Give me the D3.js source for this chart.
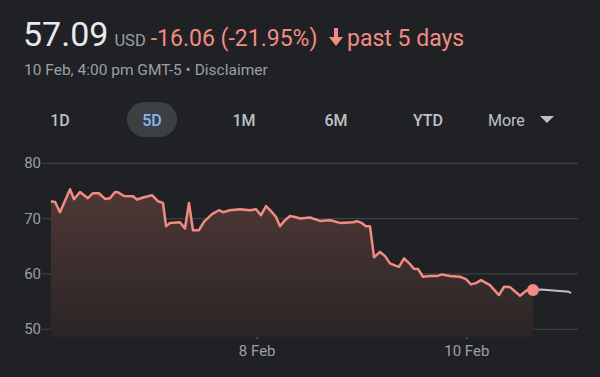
<!DOCTYPE html>
<html>
<head>
<meta charset="utf-8">
<script src="https://cdn.jsdelivr.net/npm/d3@7"></script>
<style>
  html, body { margin: 0; padding: 0; background: #202124; }
  svg { display: block; font-family: Roboto, "Noto Sans", sans-serif; }
</style>
</head>
<body>
<div class="quote"></div>
<script>
// trading days elapsed since the start of the 5-day window, and price
const times = [0.032, 0.071, 0.118, 0.214, 0.252, 0.309, 0.385, 0.433, 0.490, 0.548,
  0.595, 0.643, 0.672, 0.729, 0.815, 0.853, 0.920, 0.996, 1.053, 1.101,
  1.130, 1.168, 1.263, 1.311, 1.349, 1.387, 1.444, 1.492, 1.569, 1.635,
  1.674, 1.740, 1.836, 1.931, 1.989, 2.036, 2.084, 2.141, 2.179, 2.218,
  2.265, 2.313, 2.370, 2.408, 2.504, 2.599, 2.695, 2.790, 2.914, 2.952,
  3.000, 3.038, 3.076, 3.115, 3.172, 3.220, 3.267, 3.325, 3.353, 3.401,
  3.458, 3.496, 3.535, 3.582, 3.649, 3.716, 3.763, 3.840, 3.935, 3.992,
  4.040, 4.088, 4.135, 4.221, 4.307, 4.355, 4.412, 4.508, 4.575, 4.632]
const prices = [73.15, 73.02, 71.16, 75.31, 73.51, 74.82, 73.69, 74.59, 74.59, 73.56,
  73.69, 74.82, 74.77, 74.10, 74.05, 73.45, 73.87, 74.23, 73.15, 72.84,
  68.64, 69.23, 69.36, 68.22, 72.84, 67.91, 67.91, 69.41, 70.80, 71.52,
  71.16, 71.52, 71.70, 71.52, 71.70, 70.62, 72.25, 71.16, 70.31, 68.64,
  69.72, 70.49, 70.26, 70.03, 70.21, 69.59, 69.72, 69.23, 69.36, 69.54,
  69.18, 68.64, 68.64, 62.99, 64.00, 63.22, 61.91, 61.47, 61.29, 62.81,
  61.78, 60.93, 60.88, 59.49, 59.62, 59.62, 59.92, 59.62, 59.49, 59.07,
  58.12, 58.35, 58.89, 57.99, 56.19, 57.69, 57.63, 56.06, 57.09, 57.09]
// after-hours trading
const afterTimes = [4.632, 4.708, 4.975, 4.994]
const afterPrices = [57.09, 57.21, 56.78, 56.50]

const yTicks = [50, 60, 70, 80]
const xTickDays = [2, 4]
const xTickLabels = ["8 Feb", "10 Feb"]
const ranges = ["1D", "5D", "1M", "6M", "YTD"]
const activeRange = "5D"

const price = "57.09", currency = "USD", change = "-16.06 (-21.95%)", period = "past 5 days"
const subtitle = "10 Feb, 4:00 pm GMT-5 • Disclaimer"

let width = 600, height = 377
let red = "#f28b82", grey = "#9aa0a6"

let svg = d3.select(".quote")
    .append("svg")
    .attr("width", width)
    .attr("height", height)

// header
let head = svg.append("text")
    .attr("x", 23)
    .attr("y", 46)
head.append("tspan")
    .attr("font-size", 34)
    .attr("fill", "#e8eaed")
    .text(price)
head.append("tspan")
    .attr("dx", 6)
    .attr("font-size", 16.5)
    .attr("fill", grey)
    .text(currency)
head.append("tspan")
    .attr("dx", 5)
    .attr("font-size", 23)
    .attr("fill", red)
    .text(change)

// down arrow, then the period text
let arrowX = 336
svg.append("path")
    .attr("d", `M${arrowX - 2},28 H${arrowX + 2} V37 H${arrowX + 7} L${arrowX},46 L${arrowX - 7},37 H${arrowX - 2} Z`)
    .attr("fill", red)
svg.append("text")
    .attr("x", 347)
    .attr("y", 46)
    .attr("font-size", 23)
    .attr("fill", red)
    .text(period)

svg.append("text")
    .attr("x", 24)
    .attr("y", 75)
    .attr("font-size", 15.5)
    .attr("fill", grey)
    .text(subtitle)

// range buttons
let btnX = d3.scalePoint()
    .domain(ranges)
    .range([60, 428])
let btns = svg.append("g")
ranges.forEach((r) => {
    let active = r == activeRange
    if (active) {
        btns.append("rect")
            .attr("x", btnX(r) - 25)
            .attr("y", 102)
            .attr("width", 50)
            .attr("height", 35)
            .attr("rx", 17.5)
            .attr("fill", "#3c4043")
    }
    btns.append("text")
        .attr("x", btnX(r))
        .attr("y", 126)
        .attr("text-anchor", "middle")
        .attr("font-size", 16)
        .attr("font-weight", 500)
        .attr("fill", active ? "#8ab4f8" : "#bdc1c6")
        .text(r)
})
btns.append("text")
    .attr("x", 488)
    .attr("y", 126)
    .attr("font-size", 16)
    .attr("fill", "#bdc1c6")
    .text("More")
let triX = 547
btns.append("path")
    .attr("d", `M${triX - 7},116 H${triX + 7} L${triX},123 Z`)
    .attr("fill", "#bdc1c6")

// chart
let x = d3.scaleLinear().domain([0, 5]).range([47.6, 571.6])
let y = d3.scaleLinear().domain([50, 80]).range([329.3, 163.3])
let plotBottom = 337

let grid = svg.append("g")
grid.selectAll("line")
    .data(yTicks)
    .enter()
    .append("line")
    .attr("x1", 42)
    .attr("x2", 578)
    .attr("y1", (d) => y(d))
    .attr("y2", (d) => y(d))
    .attr("stroke", "#3c4043")
    .attr("stroke-width", 1.2)
grid.selectAll("text")
    .data(yTicks)
    .enter()
    .append("text")
    .attr("x", 41)
    .attr("y", (d) => y(d) + 5)
    .attr("text-anchor", "end")
    .attr("font-size", 15)
    .attr("fill", grey)
    .text((d) => d)

let xAxis = svg.append("g")
xTickDays.forEach((d, i) => {
    xAxis.append("line")
        .attr("x1", x(d))
        .attr("x2", x(d))
        .attr("y1", y(50))
        .attr("y2", y(50) + 10)
        .attr("stroke", "#5f6368")
        .attr("stroke-width", 1.2)
    xAxis.append("text")
        .attr("x", x(d))
        .attr("y", 356)
        .attr("text-anchor", "middle")
        .attr("font-size", 15)
        .attr("fill", grey)
        .text(xTickLabels[i])
})

let points = times.map((t, i) => ({ t: t, v: prices[i] }))
let afterPoints = afterTimes.map((t, i) => ({ t: t, v: afterPrices[i] }))

let defs = svg.append("defs")
let grad = defs.append("linearGradient")
    .attr("id", "fillGrad")
    .attr("x1", 0).attr("x2", 0)
    .attr("y1", 0).attr("y2", 1)
grad.append("stop").attr("offset", "0%").attr("stop-color", "#4e3836")
grad.append("stop").attr("offset", "100%").attr("stop-color", "#2b2526")

let area = d3.area()
    .x((d) => x(d.t))
    .y0(plotBottom)
    .y1((d) => y(d.v))
svg.append("path")
    .datum(points)
    .attr("d", area)
    .attr("fill", "url(#fillGrad)")

let line = d3.line()
    .x((d) => x(d.t))
    .y((d) => y(d.v))
svg.append("path")
    .datum(afterPoints)
    .attr("d", line)
    .attr("fill", "none")
    .attr("stroke", "#bdc1c6")
    .attr("stroke-width", 2)
svg.append("path")
    .datum(points)
    .attr("d", line)
    .attr("fill", "none")
    .attr("stroke", red)
    .attr("stroke-width", 2.5)
    .attr("stroke-linejoin", "round")

let last = points[points.length - 1]
svg.append("circle")
    .attr("cx", x(last.t))
    .attr("cy", y(last.v))
    .attr("r", 6)
    .attr("fill", red)
</script>
</body>
</html>
